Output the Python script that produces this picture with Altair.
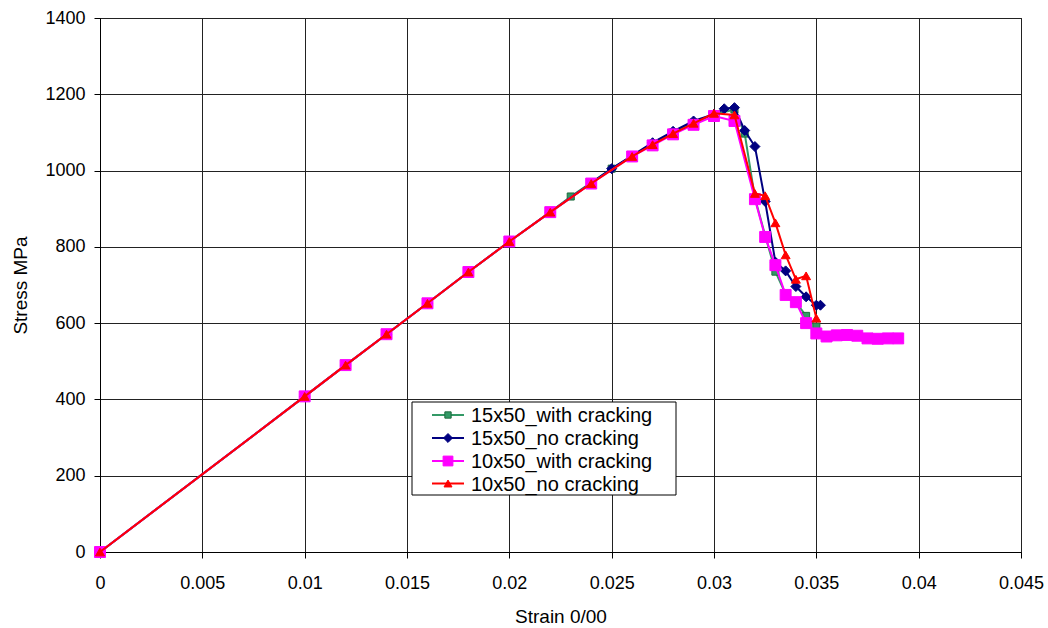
import altair as alt
import pandas as pd

# ---- data: strain (0/00) and stress (MPa) for each model ----
strain_15_crack = [0, 0.01, 0.012, 0.014, 0.016, 0.018, 0.02, 0.022, 0.023, 0.025, 0.027,
                   0.028, 0.029, 0.03, 0.031, 0.0315, 0.032, 0.0325, 0.033, 0.0335, 0.034,
                   0.0345, 0.035]
stress_15_crack = [0, 408, 490, 571, 652, 734, 814, 891, 932, 1005, 1070,
                   1100, 1126, 1147, 1160, 1097, 928, 830, 735, 676, 655,
                   619, 591]

strain_15_nocrack = [0, 0.01, 0.012, 0.014, 0.016, 0.018, 0.02, 0.022, 0.025, 0.027,
                     0.028, 0.029, 0.03, 0.0305, 0.031, 0.0315, 0.032, 0.0325, 0.033,
                     0.0335, 0.034, 0.0345, 0.035, 0.0352]
stress_15_nocrack = [0, 408, 490, 571, 652, 734, 814, 891, 1005, 1073,
                     1103, 1130, 1148, 1162, 1165, 1105, 1063, 919, 760,
                     737, 696, 669, 647, 647]

strain_10_crack = [0, 0.01, 0.012, 0.014, 0.016, 0.018, 0.02, 0.022, 0.024, 0.026,
                   0.027, 0.028, 0.029, 0.03, 0.031, 0.032, 0.0325, 0.033, 0.0335,
                   0.034, 0.0345, 0.035, 0.0355, 0.036, 0.0365, 0.037, 0.0375, 0.038,
                   0.0385, 0.039]
stress_10_crack = [0, 408, 490, 571, 652, 734, 814, 891, 966, 1037,
                   1066, 1095, 1120, 1143, 1130, 925, 826, 752, 674,
                   655, 600, 573, 565, 568, 569, 567, 560, 559,
                   560, 560]

strain_10_nocrack = [0, 0.01, 0.012, 0.014, 0.016, 0.018, 0.02, 0.022, 0.024, 0.026,
                     0.027, 0.028, 0.029, 0.03, 0.031, 0.032, 0.0325, 0.033, 0.0335,
                     0.034, 0.0345, 0.035]
stress_10_nocrack = [0, 408, 490, 571, 652, 734, 814, 891, 966, 1037,
                     1068, 1097, 1124, 1150, 1146, 940, 934, 863, 779,
                     715, 724, 613]

series_names = ["15x50_with cracking", "15x50_no cracking",
                "10x50_with cracking", "10x50_no cracking"]
series_strain = [strain_15_crack, strain_15_nocrack, strain_10_crack, strain_10_nocrack]
series_stress = [stress_15_crack, stress_15_nocrack, stress_10_crack, stress_10_nocrack]

# ---- styling per series ----
line_colors = ["#339966", "#000080", "#FF00FF", "#FF0000"]
marker_fill = ["#339966", "#000080", "#FF00FF", "#FF0000"]
marker_stroke = ["#1E6B3E", "#000080", "#FF00FF", "#FF0000"]
marker_shape = ["square", "diamond", "square", "triangle-up"]
marker_size = [50, 100, 120, 80]

FONT = "Liberation Sans"
W, H = 921, 534

x_ticks = [0, 0.005, 0.01, 0.015, 0.02, 0.025, 0.03, 0.035, 0.04, 0.045]
y_ticks = [0, 200, 400, 600, 800, 1000, 1200, 1400]

x_enc = alt.X(
    "strain:Q",
    scale=alt.Scale(domain=[0, 0.045], nice=False, zero=False),
    axis=alt.Axis(values=x_ticks, format="~g", title="Strain 0/00",
                  grid=True, gridColor="#222", gridWidth=1,
                  domainColor="#000", tickColor="#000", tickSize=6,
                  labelFlush=False, labelOverlap=False,
                  labelFont=FONT, labelFontSize=18, labelColor="#000",
                  labelPadding=16, titleFont=FONT, titleFontSize=19,
                  titleFontWeight="normal", titleColor="#000", titlePadding=15),
)
y_enc = alt.Y(
    "stress:Q",
    scale=alt.Scale(domain=[0, 1400], nice=False),
    axis=alt.Axis(values=y_ticks, format="d", title="Stress MPa",
                  grid=True, gridColor="#222", gridWidth=1,
                  domainColor="#000", tickColor="#000", tickSize=6,
                  labelFlush=False, labelOverlap=False,
                  labelFont=FONT, labelFontSize=18, labelColor="#000",
                  labelPadding=9, titleFont=FONT, titleFontSize=19,
                  titleFontWeight="normal", titleColor="#000", titlePadding=14),
)

layers = []
for i, name in enumerate(series_names):
    df = pd.DataFrame({
        "strain": series_strain[i],
        "stress": series_stress[i],
        "idx": range(len(series_strain[i])),
        "series": name,
    })
    base = alt.Chart(df).encode(x=x_enc, y=y_enc)
    layers.append(base.mark_line(color=line_colors[i], strokeWidth=2)
                  .encode(order="idx:Q"))
    layers.append(base.mark_point(shape=marker_shape[i], size=marker_size[i],
                                  filled=True, fill=marker_fill[i],
                                  stroke=marker_stroke[i], strokeWidth=1,
                                  opacity=1))

# ---- legend box drawn in pixel space inside the plot area ----
leg_left, leg_right, leg_top, leg_bottom = 312, 576, 384, 477
row_y = [397, 420, 443, 465.5]
one = pd.DataFrame({"k": [0]})

layers.append(
    alt.Chart(one).mark_rect(fill="white", stroke="#000", strokeWidth=1).encode(
        x=alt.value(leg_left), x2=alt.value(leg_right),
        y=alt.value(leg_top), y2=alt.value(leg_bottom))
)
for i, name in enumerate(series_names):
    d = pd.DataFrame({"label": [name]})
    layers.append(
        alt.Chart(d).mark_rule(color=line_colors[i], strokeWidth=2).encode(
            x=alt.value(332), x2=alt.value(364), y=alt.value(row_y[i]))
    )
    layers.append(
        alt.Chart(d).mark_point(shape=marker_shape[i], size=marker_size[i] * 0.8,
                                filled=True, fill=marker_fill[i],
                                stroke=marker_stroke[i], strokeWidth=1,
                                opacity=1).encode(
            x=alt.value(348), y=alt.value(row_y[i]))
    )
    layers.append(
        alt.Chart(d).mark_text(align="left", baseline="middle", font=FONT,
                               fontSize=20, color="#000").encode(
            x=alt.value(371), y=alt.value(row_y[i] + 1), text="label:N")
    )

chart = (
    alt.layer(*layers)
    .properties(width=W, height=H, background="white",
                padding={"left": 100, "top": 18, "right": 27, "bottom": 76},
                autosize=alt.AutoSizeParams(type="none"))
    .configure_view(stroke="#000", strokeWidth=1)
)

chart.save("out.html", embed_options={"renderer": "svg", "actions": False})
